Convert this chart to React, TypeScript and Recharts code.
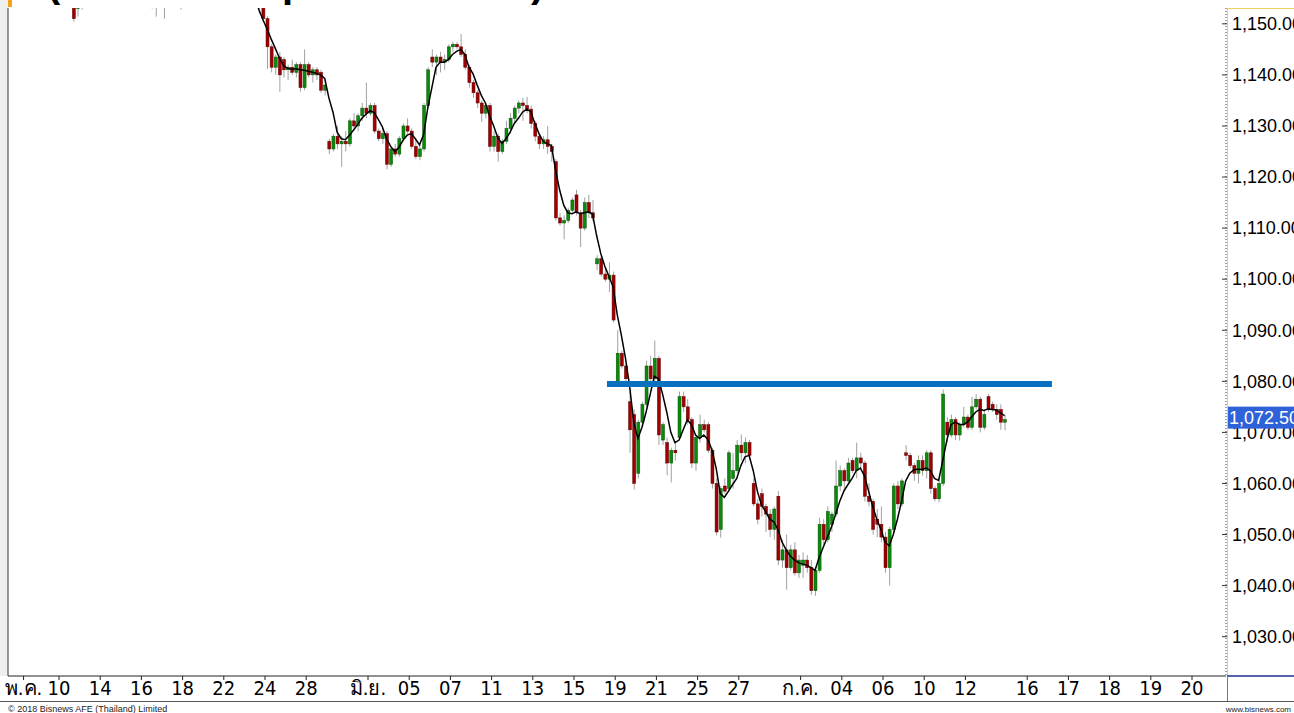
import React from 'react';
import { ComposedChart, Bar, Line, XAxis, YAxis, ReferenceLine } from 'recharts';

// hourly candles [open, high, low, close], five per trading day
// May: 8 9 10 11 14 15 16 17 18 21 22 23 24 25 28 30 31
const mayBars = [
  [1162, 1164, 1159, 1160], [1160, 1161.5, 1158, 1159], [1159, 1162, 1158.5, 1161.5], [1161.5, 1163, 1160, 1160.5], [1160.5, 1162, 1159, 1161],
  [1161, 1162.5, 1158, 1158.5], [1158.5, 1160, 1157, 1159.5], [1159.5, 1160.5, 1156.5, 1157], [1157, 1158.5, 1155.5, 1158], [1158, 1159, 1156, 1156.5],
  [1156.5, 1158, 1155, 1157.5], [1157.5, 1158, 1154.5, 1155], [1155, 1156.5, 1153.5, 1155.5], [1155.5, 1157, 1150.4, 1151], [1153, 1156, 1151.4, 1155.5],
  [1155.5, 1157, 1152.8, 1156], [1156, 1158.5, 1155, 1158], [1158, 1160, 1157, 1159.5], [1159.5, 1161, 1158, 1160], [1160, 1161.5, 1158.5, 1159],
  [1159, 1161, 1157.5, 1160.5], [1160.5, 1162, 1159, 1159.5], [1159.5, 1161, 1158, 1160], [1160, 1160.5, 1157, 1157.5], [1157.5, 1159, 1156, 1158.5],
  [1158.5, 1159.5, 1156, 1156.5], [1156.5, 1158, 1155, 1157.5], [1157.5, 1158.5, 1155.5, 1156], [1156, 1157.5, 1154.5, 1155], [1155, 1156.5, 1153.5, 1156],
  [1156, 1157.5, 1154.5, 1155.5], [1155.5, 1156.5, 1153.5, 1154], [1154, 1155.5, 1153, 1155], [1155, 1156, 1151.4, 1154.5], [1154.5, 1156, 1153.5, 1155.5],
  [1155.5, 1156.5, 1151, 1155], [1155, 1157.5, 1154.5, 1157], [1157, 1158.5, 1156, 1156.5], [1156.5, 1157.5, 1155, 1155.5], [1155.5, 1156.5, 1152.8, 1156],
  [1156, 1158, 1155.5, 1157.5], [1157.5, 1159, 1156.5, 1158.5], [1158.5, 1160, 1157.5, 1159], [1159, 1160.5, 1158, 1158.5], [1158.5, 1159.5, 1157, 1159],
  [1159, 1160, 1157, 1157.5], [1157.5, 1158.5, 1156, 1156.5], [1156.5, 1158, 1155.5, 1157.5], [1157.5, 1158.5, 1156, 1156.5], [1156.5, 1157.5, 1155, 1155.5],
  [1155.5, 1157, 1154.5, 1156.5], [1156.5, 1158, 1155.5, 1157], [1157, 1158, 1155.5, 1156], [1156, 1157.5, 1155, 1157], [1157, 1158, 1155.5, 1156],
  [1156, 1157.5, 1154.5, 1155], [1155, 1156.5, 1154, 1156], [1156, 1157, 1154.5, 1155.5], [1155.5, 1156.5, 1152, 1155], [1155, 1156, 1150.4, 1151],
  [1151, 1151.5, 1141.2, 1145.5], [1145.5, 1146, 1140.5, 1141.5], [1141.5, 1144, 1140, 1143.5], [1143.5, 1144.5, 1136.7, 1140], [1143, 1143.5, 1139.5, 1141],
  [1141, 1142, 1139, 1141.5], [1141.5, 1143, 1140, 1140.5], [1140.5, 1142.5, 1139.5, 1142], [1142, 1142.5, 1136.7, 1137.5], [1137.5, 1145, 1137, 1142],
  [1142, 1142.5, 1139.5, 1140], [1140, 1141.5, 1138.5, 1141], [1141, 1141.5, 1139, 1140], [1140.5, 1141, 1136.5, 1137], [1137, 1138.5, 1136, 1138],
  [1127, 1127.5, 1124.5, 1125.5], [1125.5, 1128.5, 1125, 1128], [1128, 1130, 1125.5, 1126.5], [1126.5, 1128, 1122, 1127], [1127, 1129, 1125, 1126.5],
  [1126.5, 1131.5, 1126, 1131], [1131, 1132.5, 1129.5, 1130], [1130, 1132.5, 1129, 1132], [1132, 1134.5, 1131, 1133.5], [1133.5, 1138.5, 1131.5, 1132.5],
];

// June: 1 4 5 6 7 8 11 12 13 14 15 18 19 20 21 22 25 26 27 28 29
const juneBars = [
  [1132.5, 1134.5, 1132, 1134], [1134, 1134.5, 1128.5, 1129], [1129, 1129.5, 1127, 1127.5], [1127.5, 1129.5, 1126.5, 1128.5], [1128.5, 1129, 1121.5, 1122.5],
  [1122.5, 1126, 1122, 1125.5], [1125.5, 1126.5, 1124, 1124.5], [1124.5, 1128, 1124, 1127.5], [1127.5, 1130.5, 1127, 1130], [1130, 1131.5, 1128.5, 1129],
  [1129, 1129.5, 1125.5, 1126], [1126, 1127.5, 1123.5, 1124], [1124, 1126.5, 1123.3, 1125.5], [1125.5, 1134.5, 1125, 1134], [1134, 1141.5, 1133.5, 1141],
  [1143.5, 1145, 1141.5, 1142.5], [1142.5, 1144, 1140, 1143.5], [1143.5, 1144.5, 1140.5, 1142.5], [1142.5, 1144, 1141, 1143], [1143, 1146, 1142.5, 1145.5],
  [1145.5, 1146.5, 1144.5, 1146], [1146, 1146.5, 1145, 1145.5], [1145.5, 1148, 1143.5, 1144], [1144, 1145, 1141, 1141.5], [1141.5, 1142, 1137.5, 1138.5],
  [1138.5, 1139, 1135.5, 1136.5], [1136.5, 1137, 1133.5, 1134.5], [1134.5, 1135, 1130.8, 1132.5], [1132.5, 1134.5, 1131.5, 1134], [1134, 1134.5, 1125, 1126],
  [1126, 1129, 1125, 1128], [1128, 1128.5, 1123, 1125], [1125, 1127.5, 1124.5, 1127], [1127, 1131, 1126.5, 1129.5], [1129.5, 1132.5, 1128.5, 1131.5],
  [1131.5, 1134, 1130.5, 1133.5], [1133.5, 1135, 1132.5, 1134.5], [1134.5, 1135.5, 1131, 1134], [1134, 1135.7, 1132.5, 1133.3], [1133.3, 1134, 1129.5, 1130.5],
  [1130.5, 1131, 1127, 1128], [1128, 1128.5, 1125.5, 1126.5], [1126.5, 1128, 1125.5, 1127.3], [1127.3, 1130, 1124.5, 1126], [1126, 1126.5, 1123, 1125],
  [1123, 1123.5, 1111.5, 1112], [1112, 1113, 1110.5, 1111], [1111, 1112.5, 1107.8, 1111.5], [1111.5, 1114, 1111, 1113.5], [1113.5, 1116, 1113, 1115.5],
  [1116.5, 1117.5, 1112.5, 1113], [1113, 1113.5, 1106.3, 1110], [1110, 1116, 1109.5, 1115], [1115, 1116.5, 1112, 1113], [1113, 1115.5, 1111.3, 1112],
  [1103, 1104.7, 1101.8, 1104], [1104, 1104.5, 1100.5, 1101], [1101, 1102, 1099.5, 1100], [1100, 1103.3, 1097.5, 1100.8], [1100.8, 1101.5, 1091.5, 1092],
  [1080, 1090, 1079.5, 1085.5], [1085.5, 1086, 1082.5, 1083], [1083, 1083.5, 1079.5, 1080.5], [1076, 1078, 1066, 1070.5], [1073.5, 1074.5, 1058.8, 1060],
  [1062, 1072.5, 1061, 1072], [1072, 1076, 1071.5, 1075.5], [1075.5, 1084, 1075, 1083], [1083, 1085, 1079.5, 1080.5], [1080.5, 1088, 1080, 1084.5],
  [1084.5, 1085, 1067.5, 1069.5], [1068.5, 1072, 1067.5, 1071.5], [1068, 1069, 1061.6, 1064], [1064, 1067, 1060.2, 1066.5], [1066.5, 1068, 1064.5, 1066],
  [1069, 1078, 1068.5, 1077], [1077, 1078, 1074, 1075], [1075, 1076.5, 1071.5, 1072.5], [1072.5, 1073, 1063, 1064], [1064, 1069.5, 1062.5, 1069],
  [1069, 1073.5, 1068, 1071.5], [1071.5, 1072.5, 1070, 1070.5], [1071.5, 1072, 1066, 1066.5], [1066.5, 1067, 1059, 1060], [1060, 1061, 1049.8, 1050.5],
  [1051, 1059.5, 1049.4, 1059], [1059.5, 1061, 1058, 1058.5], [1059, 1066.5, 1058.5, 1066], [1061, 1066, 1059, 1062.5], [1062.5, 1068.5, 1062, 1067.5],
  [1067.5, 1069.6, 1064.5, 1066], [1066, 1069, 1064, 1068], [1068, 1068.5, 1064.5, 1065.5], [1060, 1061, 1055.5, 1056], [1056, 1057, 1052, 1053],
  [1058, 1059, 1053.5, 1055.5], [1055.5, 1056, 1050.5, 1054], [1054, 1055, 1049.5, 1051], [1051, 1055.5, 1049, 1055], [1057.5, 1058.5, 1044, 1045],
  [1045, 1049, 1043.5, 1047], [1047, 1050, 1039.2, 1043.5], [1043.5, 1048, 1043, 1047], [1047, 1048.5, 1042, 1042.5], [1042.5, 1046, 1041.5, 1045],
];

// July: 2 3 4 5 6 9 10 11 12 13
const julyBars = [
  [1044, 1046.5, 1041.5, 1045], [1045, 1046, 1042.5, 1043.5], [1043.5, 1045, 1038.2, 1039], [1039, 1043.5, 1038, 1043], [1043, 1053.3, 1042.5, 1052],
  [1052, 1053, 1048, 1049], [1049, 1055.5, 1048.5, 1054.5], [1052, 1054.5, 1050.5, 1054], [1054, 1064.5, 1053.5, 1059.5], [1059.5, 1063.5, 1058.5, 1062.5],
  [1062.5, 1063, 1058.5, 1060.5], [1060.5, 1065, 1060, 1064], [1064.5, 1065, 1062, 1062.5], [1062.5, 1068, 1061, 1065], [1065, 1066, 1063, 1064],
  [1064, 1064.5, 1056.5, 1057.5], [1057.5, 1060, 1055.5, 1056.5], [1056.5, 1057, 1050, 1051], [1053, 1055, 1049.5, 1052], [1052, 1055.5, 1048.5, 1049.5],
  [1049.5, 1050.5, 1042.5, 1043.5], [1043.5, 1051.5, 1040, 1051], [1051, 1060, 1050.5, 1059.5], [1059.5, 1060.5, 1055, 1056], [1056, 1061, 1055.5, 1060.5],
  [1066, 1067.5, 1064.5, 1065.5], [1065.5, 1066, 1063, 1063.5], [1063.5, 1064, 1060.5, 1062], [1062, 1065.5, 1060, 1064.5], [1064.5, 1065.5, 1061.5, 1062.5],
  [1062.5, 1066.5, 1061, 1066], [1066, 1066.5, 1058, 1059], [1059, 1059.5, 1056.5, 1057], [1057, 1061, 1056.3, 1060], [1060, 1078.4, 1059.5, 1077.5],
  [1072, 1073, 1068, 1069.5], [1069.5, 1073.5, 1069, 1072.5], [1072.5, 1073, 1068.5, 1069.5], [1069.5, 1072, 1068.4, 1071.5], [1071.5, 1075, 1071, 1073],
  [1073, 1073.5, 1070.5, 1071], [1071, 1077, 1070.5, 1075], [1075, 1077.5, 1074.5, 1076.5], [1076.5, 1077, 1070, 1071], [1071, 1074.5, 1070.5, 1073.5],
  [1077, 1077.5, 1074, 1074.5], [1075.5, 1076, 1074, 1074.5], [1074.5, 1075.5, 1072.5, 1073.5], [1074.5, 1075.5, 1070.5, 1072], [1072, 1073.5, 1070.4, 1072.5],
];

// moving average, one value per candle
const mayMa = [
  1161, 1160.6, 1160.6, 1160.5, 1160.4, 1160, 1159.6, 1159, 1158.5, 1158,
  1157.8, 1157.4, 1156.8, 1155.5, 1155, 1154.9, 1155.2, 1156.2, 1157.5, 1158.5,
  1159.2, 1159.4, 1159.6, 1159.3, 1159.1, 1158.4, 1158, 1157.5, 1156.8, 1156.2,
  1156, 1155.6, 1155.2, 1155, 1154.9, 1154.9, 1155.3, 1155.7, 1155.8, 1156,
  1156.5, 1157, 1157.5, 1158, 1158.5, 1158.5, 1158, 1157.8, 1157.5, 1156.8,
  1156.6, 1156.6, 1156.6, 1156.5, 1156.4, 1156.2, 1156, 1155.6, 1152.8, 1150.8,
  1149, 1147, 1145.2, 1143.3, 1141.8, 1141.3, 1141.1, 1141.2, 1141, 1140.9,
  1140.7, 1140.5, 1140.3, 1140, 1139.3, 1135.5, 1132.7, 1128.8, 1127.5, 1127.3,
  1128.2, 1129.2, 1130.3, 1131.5, 1132.3,
];
const juneMa = [
  1133, 1132.6, 1131.3, 1129.8, 1127.5, 1126, 1125, 1125.8, 1127.2, 1128.2,
  1128.5, 1127.5, 1126.3, 1128.3, 1133.5, 1137.5, 1141.5, 1142.5, 1142.5, 1143,
  1144, 1144.6, 1145, 1144, 1141.5, 1140.2, 1138, 1136, 1134.5, 1132,
  1130, 1127.7, 1126.6, 1127.5, 1128.8, 1130.5, 1131.5, 1132.7, 1133.3, 1132.8,
  1130.5, 1128.5, 1127, 1126.5, 1126.2, 1121.5, 1117.5, 1114.5, 1113, 1112.8,
  1113.2, 1112.8, 1113, 1113.2, 1112.7, 1108.5, 1105, 1102.5, 1100.5, 1098.5,
  1093, 1089, 1084.5, 1079, 1072, 1068.8, 1071, 1074, 1077.5, 1081,
  1080.5, 1077.5, 1074, 1070, 1068, 1068.5, 1070.5, 1072.5, 1071.5, 1069.5,
  1068.8, 1069.5, 1068.6, 1066.5, 1063, 1058, 1057.3, 1058.5, 1059.8, 1061,
  1063.5, 1065.2, 1065.5, 1062.5, 1058.5, 1055.8, 1054.5, 1053, 1052.5, 1051,
  1048.5, 1047, 1045.8, 1045, 1044.5,
];
const julyMa = [
  1044.2, 1044, 1043.5, 1043, 1045.5, 1047.5, 1049.5, 1051.5, 1054, 1056.5,
  1058.5, 1059.8, 1061, 1062.5, 1063, 1061.5, 1058.5, 1055.5, 1053, 1051,
  1048.5, 1047.8, 1050, 1053, 1056.5, 1060.5, 1062, 1062.7, 1062.8, 1062.8,
  1063, 1062.5, 1061, 1060.6, 1064.5, 1068.5, 1071.5, 1072, 1071.6, 1071.5,
  1072, 1073, 1074, 1074.5, 1074.3, 1074.6, 1074.5, 1074.4, 1073.8, 1073.3,
];

// date axis: position in trading days from 8 May, and its label
const dateTicks = [0.28, 2, 4, 6, 8, 10, 12, 14, 17, 19, 21, 23, 25, 27, 29, 31, 33, 35, 38, 40, 42, 44, 46, 49, 51, 53, 55, 57];
const dateLabels = ['พ.ค.', '10', '14', '16', '18', '22', '24', '28', 'มิ.ย.', '05', '07', '11', '13', '15', '19', '21', '25', '27', 'ก.ค.', '04', '06', '10', '12', '16', '17', '18', '19', '20'];

const priceTicks = [1030, 1040, 1050, 1060, 1070, 1080, 1090, 1100, 1110, 1120, 1130, 1140, 1150];
const minorTicks = [1024, 1026, 1028, 1030, 1032, 1034, 1036, 1038, 1040, 1042, 1044, 1046, 1048, 1050, 1052, 1054, 1056, 1058, 1060, 1062, 1064, 1066, 1068, 1070, 1072, 1074, 1076, 1078, 1080, 1082, 1084, 1086, 1088, 1090, 1092, 1094, 1096, 1098, 1100, 1102, 1104, 1106, 1108, 1110, 1112, 1114, 1116, 1118, 1120, 1122, 1124, 1126, 1128, 1130, 1132, 1134, 1136, 1138, 1140, 1142, 1144, 1146, 1148, 1150, 1152];

// resistance line drawn on the chart
const resistance = { level: 1079.5, from: 28.6, to: 50.2 };

const PER_DAY = 5;
const allBars = [...mayBars, ...juneBars, ...julyBars];
const allMa = [...mayMa, ...juneMa, ...julyMa];
const rows = allBars.map(([open, high, low, close], i) => ({
  x: Math.floor(i / PER_DAY) + ((i % PER_DAY) + 0.5) / PER_DAY,
  open,
  high,
  low,
  close,
  ma: allMa[i],
}));
const lastClose = rows[rows.length - 1].close;
const yTicks = [...priceTicks.filter((t) => t < lastClose), lastClose, ...priceTicks.filter((t) => t > lastClose)];

const Y_DOMAIN: [number, number] = [1022.3, 1153.1];
const X_DOMAIN: [number, number] = [-0.476, 58.65];

const fmt = (v: number) => v.toLocaleString('en-US', { minimumFractionDigits: 2, maximumFractionDigits: 2 });
const LABEL_FONT = "'Liberation Sans', Arial, sans-serif";
const AXIS_FONT = "'Liberation Sans Narrow', 'Arial Narrow', 'DejaVu Sans Condensed', sans-serif";

const Candle = (props: any) => {
  const { x, y, width, height, payload } = props;
  if (!payload) return null;
  const { open, close, high, low } = payload;
  const k = high === low ? 0 : height / (high - low);
  const py = (v: number) => y + (high - v) * k;
  const cx = x + width / 2;
  const up = close >= open;
  const top = py(Math.max(open, close));
  const bottom = py(Math.min(open, close));
  return (
    <g>
      <line x1={cx} x2={cx} y1={y} y2={y + height} stroke="#a0a0a0" strokeWidth={1} />
      <rect
        x={x}
        y={top}
        width={width}
        height={Math.max(1, bottom - top)}
        fill={up ? '#0a8a0a' : '#a00000'}
        stroke={up ? '#045004' : '#5a0000'}
        strokeWidth={0.5}
      />
    </g>
  );
};

const PriceTick = (props: any) => {
  const { x, y, payload } = props;
  const v = payload.value;
  if (v === lastClose) {
    return (
      <g>
        <rect x={x - 5} y={y - 13} width={72} height={22} fill="#2f62d8" />
        <text x={x - 3} y={y - 2} dy="0.33em" fontSize={18} fontFamily={LABEL_FONT} fill="#fff">
          {fmt(v)}
        </text>
      </g>
    );
  }
  return (
    <g>
      <line x1={x - 10} x2={x - 5} y1={y} y2={y} stroke="#333" />
      <text x={x} y={y} dy="0.35em" fontSize={18} fontFamily={LABEL_FONT} fill="#000">
        {fmt(v)}
      </text>
    </g>
  );
};

export default function App() {
  return (
    <div style={{ position: 'fixed', left: 0, top: 0, width: 1294, height: 713, background: '#fff', overflow: 'hidden' }}>
      <svg width={1294} height={713} style={{ position: 'absolute', left: 0, top: 0 }}>
        <rect x={0} y={0} width={8} height={676} fill="#efefef" />
      </svg>
      <div style={{ position: 'absolute', left: 0, top: 0 }}>
        <ComposedChart width={1294} height={713} data={rows} margin={{ top: 8, right: 0, bottom: 12, left: 8 }}>
          <XAxis
            dataKey="x"
            type="number"
            domain={X_DOMAIN}
            allowDataOverflow
            ticks={dateTicks}
            interval={0}
            tickFormatter={(v: number) => dateLabels[dateTicks.indexOf(v)] ?? ''}
            height={25}
            tickSize={4}
            tickMargin={1}
            axisLine={{ stroke: '#222' }}
            tickLine={{ stroke: '#222' }}
            tick={{ fontSize: 20, fontFamily: AXIS_FONT, fill: '#000' }}
          />
          <YAxis
            yAxisId="left"
            orientation="left"
            mirror
            width={8}
            domain={Y_DOMAIN}
            allowDataOverflow
            ticks={minorTicks}
            interval={0}
            tick={false}
            tickSize={3}
            axisLine={{ stroke: '#333' }}
            tickLine={{ stroke: '#333' }}
          />
          <YAxis
            yAxisId="right"
            orientation="right"
            width={68}
            domain={Y_DOMAIN}
            allowDataOverflow
            ticks={yTicks}
            interval={0}
            tickSize={0}
            tickMargin={6}
            tickLine={false}
            axisLine={{ stroke: '#444', strokeDasharray: '1 2' }}
            tick={<PriceTick />}
          />
          <Bar
            yAxisId="right"
            dataKey={(r: any) => [r.low, r.high]}
            barSize={3}
            shape={<Candle />}
            isAnimationActive={false}
          />
          <Line
            yAxisId="right"
            dataKey="ma"
            type="linear"
            stroke="#000"
            strokeWidth={1.5}
            dot={false}
            isAnimationActive={false}
          />
          <ReferenceLine
            yAxisId="right"
            segment={[
              { x: resistance.from, y: resistance.level },
              { x: resistance.to, y: resistance.level },
            ]}
            stroke="#0a70c0"
            strokeWidth={6}
          />
        </ComposedChart>
      </div>
      <svg width={1294} height={713} style={{ position: 'absolute', left: 0, top: 0, pointerEvents: 'none' }}>
        <rect x={8} y={0} width={4} height={7} fill="#f5a21b" />
        <g fontFamily={LABEL_FONT} fontWeight="bold" fontSize={40} fill="#000">
          <text x={47} y={-3}>(</text>
          <text x={282} y={-3}>p</text>
          <text x={531} y={-3}>)</text>
        </g>
        <line x1={1227.5} x2={1227.5} y1={8} y2={676} stroke="#f0d060" />
        <line x1={1227} x2={1294} y1={8.5} y2={8.5} stroke="#f0d060" />
        <line x1={1227} x2={1294} y1={676} y2={676} stroke="#1c2d8c" strokeWidth={1.5} />
        <line x1={1227.5} x2={1227.5} y1={676} y2={702} stroke="#777" />
        <line x1={0} x2={1294} y1={701.5} y2={701.5} stroke="#555" />
        <text x={8} y={712} fontSize={9} fontFamily={LABEL_FONT} fill="#222">
          © 2018 Bisnews AFE (Thailand) Limited
        </text>
        <text x={1291} y={712} textAnchor="end" fontSize={8} fontFamily={LABEL_FONT} fill="#222">
          www.bisnews.com
        </text>
      </svg>
    </div>
  );
}
